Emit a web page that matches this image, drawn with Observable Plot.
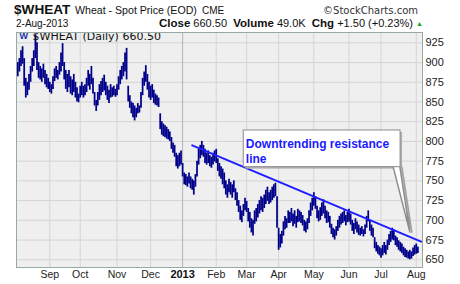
<!DOCTYPE html>
<html>
<head>
<meta charset="utf-8">
<script src="https://cdn.jsdelivr.net/npm/d3@7"></script>
<script src="https://cdn.jsdelivr.net/npm/@observablehq/plot@0.6"></script>
<style>
  body { margin:0; background:#fff; }
  #hdr { position:relative; width:460px; height:31px; font-family:"Liberation Sans", Arial, sans-serif; color:#111; }
  #hdr span.t { position:absolute; line-height:1; white-space:nowrap; }
  #chart svg { display:block; }
</style>
</head>
<body>
<div id="hdr">
  <span class="t" style="left:14px;top:2.5px;font-size:13.6px;font-weight:bold">$WHEAT</span>
  <span class="t" style="left:75px;top:4.9px;font-size:10.6px">Wheat - Spot Price (EOD)</span>
  <span class="t" style="left:202px;top:5.5px;font-size:10px">CME</span>
  <span class="t" style="right:42px;top:5.5px;font-size:10px;font-family:'DejaVu Sans',sans-serif;color:#333">©StockCharts.com</span>
  <span class="t" style="left:16px;top:18.5px;font-size:10px">2-Aug-2013</span>
  <span class="t" style="right:37px;top:17.7px;font-size:11px"><b style="font-size:11.5px">Close</b> 660.50 &nbsp;<b style="font-size:11.5px">Volume</b> 49.0K &nbsp;<b style="font-size:11.5px">Chg</b> +1.50 (+0.23%) <span style="color:#19a319;font-size:7px;vertical-align:1px">▲</span></span>
</div>
<div id="chart"></div>
<script>
// Daily high / low (trading-day index 0 = early Aug 2012, last = 2-Aug-2013)
const hi = [
900,905,915,920,905,880,875,885,895,905,
915,935,925,900,895,892,898,890,885,880,
875,872,882,892,895,890,900,912,924,900,
890,885,890,882,878,885,875,868,860,870,
875,870,872,880,890,885,895,880,862,852,
862,872,876,880,884,875,870,865,872,868,
870,866,872,882,890,895,900,912,918,870,
858,850,848,845,842,848,845,862,880,888,
896,885,875,870,872,865,860,858,855,835,
825,822,820,818,815,812,805,798,795,785,
782,785,788,772,760,758,755,760,755,752,
750,758,775,790,795,800,795,790,785,788,
782,780,785,788,790,778,772,768,765,760,
750,745,752,748,745,750,740,735,725,718,
712,720,728,724,715,710,702,700,712,715,
720,725,730,728,732,738,742,735,738,742,
745,747,730,690,682,686,698,705,702,712,
710,715,708,712,705,714,712,710,706,700,
698,702,712,722,728,735,730,718,712,716,
722,726,718,712,710,705,695,690,688,692,
700,705,708,710,712,706,710,714,708,700,
696,702,698,694,690,692,688,694,705,712,
700,694,690,678,672,668,666,664,668,672,
668,675,682,686,690,688,680,678,674,672,
670,666,664,662,660,662,660,665,668,670,
666];
const lo = [
882,888,895,898,870,855,858,865,875,888,
895,905,890,880,878,875,880,872,868,866,
862,860,866,876,880,878,884,888,895,878,
866,862,868,860,858,862,855,850,849,855,
858,855,858,862,870,865,872,860,845,838,
845,852,858,862,864,858,852,848,855,856,
858,856,858,865,872,878,882,888,878,850,
842,835,830,826,830,835,836,842,858,870,
875,865,855,852,855,848,846,845,843,815,
808,806,805,803,802,800,790,785,780,768,
765,768,770,755,745,744,742,746,740,738,
732,742,755,770,778,782,780,772,770,772,
768,766,770,774,772,762,755,752,745,740,
732,728,735,732,728,735,725,718,710,700,
697,705,712,710,698,690,684,680,695,698,
703,708,712,710,715,720,724,720,722,725,
728,730,690,662,665,670,680,688,690,696,
696,698,692,695,690,697,698,696,693,686,
684,688,696,705,712,718,714,702,698,700,
705,708,702,696,697,690,682,678,675,680,
686,690,694,696,698,693,697,698,694,686,
682,688,684,681,680,682,679,682,690,698,
686,680,678,664,660,657,655,652,655,658,
656,662,668,672,675,674,668,666,662,660,
658,655,653,652,651,650,651,654,656,657,
658];

// Month ticks (first trading day of each month, as trading-day index)
const monthIdx    = [20, 39, 62, 83, 103, 124, 143, 163, 185, 207, 227, 249];
const monthLabels = ["Sep","Oct","Nov","Dec","2013","Feb","Mar","Apr","May","Jun","Jul","Aug"];
const yTicks = [650,675,700,725,750,775,800,825,850,875,900,925];

// Trend line (index, price)
const trendIdx = [109, 252];
const trendVal = [795, 673];

// Callout box and pointer (index, price)
const boxIdx = [141.2, 239.2];
const boxVal = [767.4, 813.9];
const pointerIdx = [234.6, 245, 238.8];
const pointerVal = [767.4, 685, 767.4];
const calloutText = "Downtrending resistance\nline";
const calloutAt = [142.5, 805.6];
const legendText = "$WHEAT (Daily) 660.50";

const bars = hi.map((h, i) => ({i, hi: h, lo: lo[i]}));
const trend = trendIdx.map((x, k) => ({x, y: trendVal[k]}));
const pointer = pointerIdx.map((x, k) => ({x, y: pointerVal[k]}));
const box = [{x1: boxIdx[0], x2: boxIdx[1], y1: boxVal[0], y2: boxVal[1]}];
const labelOf = new Map(monthIdx.map((m, k) => [m, monthLabels[k]]));
const yearIdx = monthIdx[monthLabels.indexOf("2013")];

const chart = Plot.plot({
  width: 460, height: 253,
  marginLeft: 16, marginRight: 38, marginTop: 1, marginBottom: 17,
  style: {fontFamily: "'Liberation Sans', Arial, sans-serif", fontSize: "11px", color: "#222", background: "#fff"},
  x: {type: "linear", domain: [-0.8, 252.9], axis: null},
  y: {domain: [640.2, 938.1], axis: null},
  marks: [
    Plot.frame({fill: "#efefef", stroke: null}),
    Plot.gridY(yTicks, {stroke: "#d4d4d4", strokeOpacity: 1}),
    Plot.gridX(monthIdx.filter(m => m !== yearIdx), {stroke: "#d4d4d4", strokeOpacity: 1}),
    Plot.ruleX([yearIdx], {stroke: "#b4b4b4"}),
    Plot.ruleX(bars, {x: "i", y1: "lo", y2: "hi", stroke: "#00008b", strokeWidth: 1.75}),
    Plot.line(trend, {x: "x", y: "y", stroke: "#1e1eff", strokeWidth: 2}),
    // callout shadow
    Plot.rect(box, {x1: "x1", x2: "x2", y1: "y1", y2: "y2", fill: "#b0b0b0", dx: 2, dy: 2}),
    Plot.line(pointer, {x: "x", y: "y", fill: "#c8c8c8", stroke: "#a0a0a0", dx: 2}),
    Plot.rect(box, {x1: "x1", x2: "x2", y1: "y1", y2: "y2", fill: "#fff", stroke: "#8c8c8c"}),
    Plot.line(pointer, {x: "x", y: "y", fill: "#fff", stroke: "#8c8c8c"}),
    Plot.text([calloutText], {x: () => calloutAt[0], y: () => calloutAt[1], text: d => d,
      textAnchor: "start", lineAnchor: "top", lineHeight: 1.25, fontSize: 12, fontWeight: "bold", fill: "#1a1aff"}),
    // legend inside plot
    Plot.text(["W"], {frameAnchor: "top-left", dx: 3, dy: 4, text: d => d, textAnchor: "start", lineAnchor: "middle",
      fontSize: 9, fontWeight: "bold", fill: "#2233aa"}),
    Plot.text([legendText], {frameAnchor: "top-left", dx: 16, dy: 4, text: d => d, textAnchor: "start", lineAnchor: "middle",
      fontSize: 11, fontFamily: "'DejaVu Sans', sans-serif", fill: "#111"}),
    Plot.frame({stroke: "#96aaa3"}),
    Plot.axisY(yTicks, {anchor: "right", tickSize: 0, tickPadding: 3, fontSize: 11, fill: "#222"}),
    Plot.axisX(monthIdx.filter(m => m !== yearIdx), {anchor: "bottom", tickSize: 0, tickPadding: 3, fontSize: 10.5,
      fill: "#222", tickFormat: m => labelOf.get(m)}),
    Plot.axisX([yearIdx], {anchor: "bottom", tickSize: 0, tickPadding: 3, fontSize: 11, fontWeight: "bold",
      fill: "#111", tickFormat: m => labelOf.get(m)})
  ]
});
document.getElementById("chart").appendChild(chart);
</script>
</body>
</html>
